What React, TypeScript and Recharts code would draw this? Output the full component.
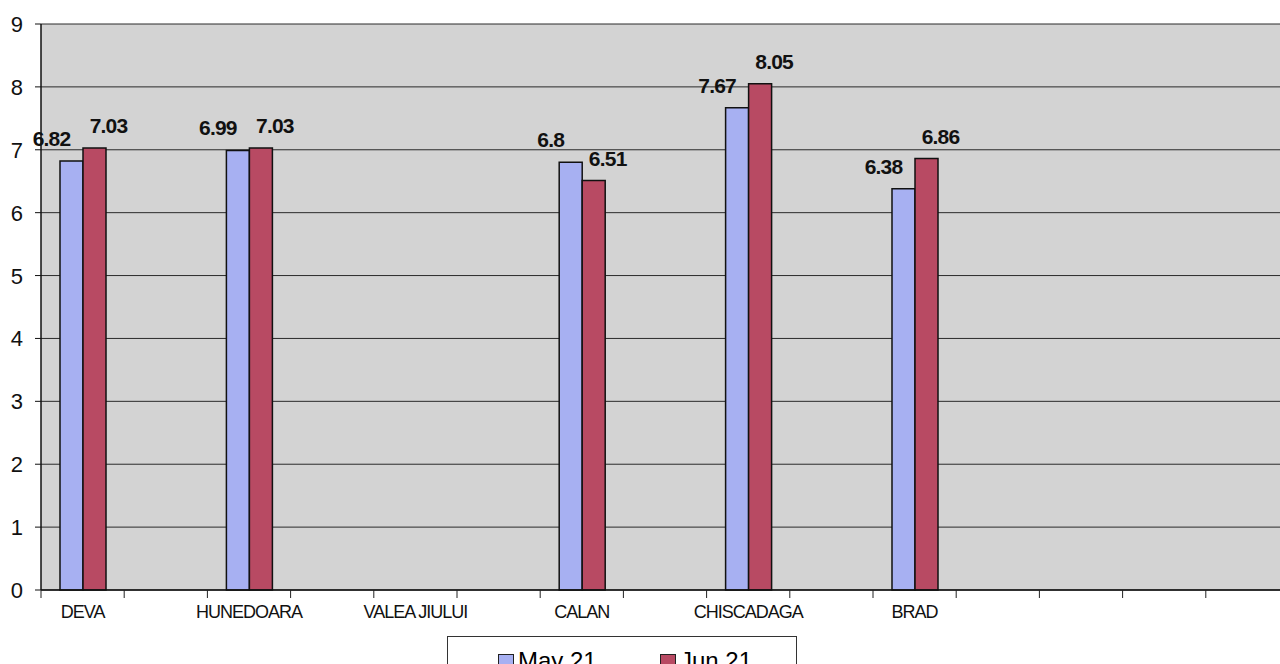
import React from 'react'
import { BarChart, Bar, XAxis, YAxis, CartesianGrid, LabelList } from 'recharts'

// categories every other slot, Excel style spacing
const categories = ['DEVA', '', 'HUNEDOARA', '', 'VALEA JIULUI', '', 'CALAN', '', 'CHISCADAGA', '', 'BRAD', '', '', '', '']
const may21 = [6.82, null, 6.99, null, null, null, 6.8, null, 7.67, null, 6.38, null, null, null, null]
const jun21 = [7.03, null, 7.03, null, null, null, 6.51, null, 8.05, null, 6.86, null, null, null, null]
const yTicks = [0, 1, 2, 3, 4, 5, 6, 7, 8, 9]

const FONT = '"Liberation Sans", Arial, sans-serif'
const CHART_W = 1300
const CHART_H = 664
const Y_AXIS_W = 41
const MARGIN = { top: 24, right: 11, left: 0, bottom: 44 }
const X_AXIS_H = 30
const PLOT_W = CHART_W - Y_AXIS_W - MARGIN.left - MARGIN.right
const PLOT_BOTTOM = CHART_H - MARGIN.bottom - X_AXIS_H
const BAND = PLOT_W / categories.length

const data = categories.map((name, i) => ({ i, name, may: may21[i], jun: jun21[i] }))

function XTick(props: any) {
  const { x, index } = props
  const left = x - BAND / 2
  const last = index === categories.length - 1
  return (
    <g>
      <line x1={left} x2={left} y1={PLOT_BOTTOM} y2={PLOT_BOTTOM + 8} stroke="#222" />
      {last && <line x1={left + BAND} x2={left + BAND} y1={PLOT_BOTTOM} y2={PLOT_BOTTOM + 8} stroke="#222" />}
      <text
        x={x}
        y={PLOT_BOTTOM + 28}
        textAnchor="middle"
        fontSize={18}
        fontFamily={FONT}
        letterSpacing={-1}
        fill="#111"
      >
        {categories[index]}
      </text>
    </g>
  )
}

function YTick(props: any) {
  const { x, y, payload } = props
  return (
    <text x={x - 10} y={y + 8} textAnchor="end" fontSize={22} fontFamily={FONT} fill="#111">
      {payload.value}
    </text>
  )
}

// excel pushed the labels apart a bit, blue left and red right
function makeLabel(dx: number) {
  return (props: any) => {
    const { x, y, width, value } = props
    if (value == null) return null
    return (
      <text
        x={x + width / 2 + dx}
        y={y - 15}
        textAnchor="middle"
        fontSize={21}
        fontWeight="bold"
        fontFamily={FONT}
        letterSpacing={-0.8}
        fill="#111"
      >
        {value}
      </text>
    )
  }
}

export default function App() {
  return (
    <div
      style={{
        position: 'fixed',
        left: 0,
        top: 0,
        width: 1280,
        height: 664,
        overflow: 'hidden',
        background: '#fff',
        fontFamily: FONT,
      }}
    >
      <BarChart width={CHART_W} height={CHART_H} data={data} margin={MARGIN} barGap={0}>
        <CartesianGrid vertical={false} stroke="#2a2a2a" fill="#d3d3d3" fillOpacity={1} />
        <XAxis
          dataKey="i"
          type="category"
          height={X_AXIS_H}
          axisLine={{ stroke: '#111', strokeWidth: 1.5 }}
          tickLine={false}
          tick={<XTick />}
          interval={0}
        />
        <YAxis
          width={Y_AXIS_W}
          domain={[0, 9]}
          ticks={yTicks}
          interval={0}
          axisLine={{ stroke: '#111', strokeWidth: 1.5 }}
          tickLine={{ stroke: '#111' }}
          tickSize={6}
          tick={<YTick />}
        />
        <Bar dataKey="may" fill="#a7b0f2" stroke="#111" strokeWidth={1.5} barSize={23} isAnimationActive={false}>
          <LabelList dataKey="may" content={makeLabel(-20)} />
        </Bar>
        <Bar dataKey="jun" fill="#b84a63" stroke="#111" strokeWidth={1.5} barSize={23} isAnimationActive={false}>
          <LabelList dataKey="jun" content={makeLabel(14)} />
        </Bar>
      </BarChart>
      <div
        style={{
          position: 'absolute',
          left: 447,
          top: 636,
          width: 350,
          height: 60,
          border: '1px solid #333',
          background: '#fff',
          boxSizing: 'border-box',
        }}
      >
        <div style={{ position: 'absolute', left: 50, top: 17, width: 14, height: 14, background: '#a7b0f2', border: '1px solid #222' }} />
        <div style={{ position: 'absolute', left: 70, top: 10, fontSize: 24, lineHeight: '28px' }}>May 21</div>
        <div style={{ position: 'absolute', left: 212, top: 17, width: 14, height: 14, background: '#b84a63', border: '1px solid #222' }} />
        <div style={{ position: 'absolute', left: 232, top: 10, fontSize: 24, lineHeight: '28px' }}>Jun 21</div>
      </div>
    </div>
  )
}
